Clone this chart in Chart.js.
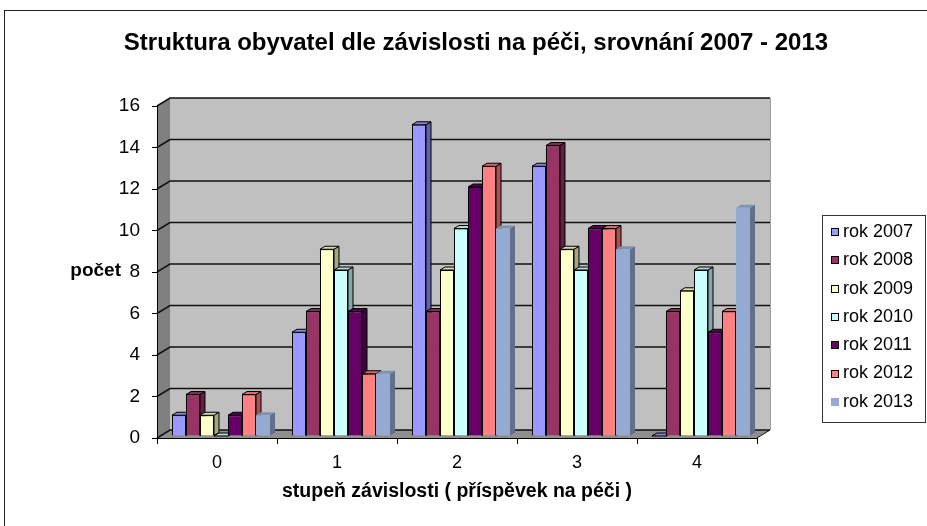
<!DOCTYPE html>
<html>
<head>
<meta charset="utf-8">
<script src="https://cdn.jsdelivr.net/npm/chart.js@4.4.1/dist/chart.umd.min.js"></script>
<style>
  html, body { margin: 0; padding: 0; background: #fff; overflow: hidden; }
  #frame { position: absolute; left: 4px; top: 10px; width: 942px; height: 540px; border: 1px solid #222; }
  canvas { display: block; }
</style>
</head>
<body>
<div id="frame"><canvas id="myChart" width="942" height="540"></canvas></div>
<script>
// data
const categories = ["0", "1", "2", "3", "4"];
const seriesNames = ["rok 2007", "rok 2008", "rok 2009", "rok 2010", "rok 2011", "rok 2012", "rok 2013"];
const rok2007 = [1, 5, 15, 13, 0];
const rok2008 = [2, 6, 6, 14, 6];
const rok2009 = [1, 9, 8, 9, 7];
const rok2010 = [0, 8, 10, 8, 8];
const rok2011 = [1, 6, 12, 10, 5];
const rok2012 = [2, 3, 13, 10, 6];
const rok2013 = [1, 3, 10, 9, 11];
const seriesValues = [rok2007, rok2008, rok2009, rok2010, rok2011, rok2012, rok2013];

const chartTitle = "Struktura obyvatel dle závislosti na péči, srovnání 2007 - 2013";
const xTitle = "stupeň závislosti ( příspěvek na péči )";
const yTitle = "počet";

// styles
const seriesColors = ["#9999FF", "#993366", "#FFFFCC", "#CCFFFF", "#660066", "#FF8080", "#95AAD2"];
const seriesBorders = [1, 1, 1, 1, 1, 1, 0];
const FONT = "'Liberation Sans', Arial, sans-serif";

function shade(hex, f) {
    const n = parseInt(hex.slice(1), 16);
    const r = Math.round(((n >> 16) & 255) * f);
    const g = Math.round(((n >> 8) & 255) * f);
    const b = Math.round((n & 255) * f);
    return "rgb(" + r + "," + g + "," + b + ")";
}

function poly(ctx, pts, fill, stroke) {
    ctx.beginPath();
    ctx.moveTo(pts[0][0], pts[0][1]);
    for (let i = 1; i < pts.length; i++) ctx.lineTo(pts[i][0], pts[i][1]);
    ctx.closePath();
    if (fill) { ctx.fillStyle = fill; ctx.fill(); }
    if (stroke) { ctx.strokeStyle = stroke; ctx.lineWidth = 1; ctx.stroke(); }
}

// back wall, side wall, floor and grid lines of the 3D box
const wallsPlugin = {
    id: "walls",
    beforeDraw(chart) {
        const ctx = chart.ctx;
        const a = chart.chartArea;
        const y = chart.scales.y;
        const dx = 13, dy = -8;
        ctx.save();
        ctx.fillStyle = "#c0c0c0";
        ctx.fillRect(a.left + dx, a.top + dy, a.right - a.left, a.bottom - a.top);
        poly(ctx, [[a.left, a.top], [a.left + dx, a.top + dy], [a.left + dx, a.bottom + dy], [a.left, a.bottom]], "#808080");
        poly(ctx, [[a.left, a.bottom], [a.left + dx, a.bottom + dy], [a.right + dx, a.bottom + dy], [a.right, a.bottom]], "#8f8f8f");
        ctx.strokeStyle = "#a0a0a0";
        ctx.lineWidth = 1;
        ctx.beginPath();
        ctx.moveTo(a.right + dx + 0.5, a.top + dy);
        ctx.lineTo(a.right + dx + 0.5, a.bottom + dy);
        ctx.stroke();
        ctx.strokeStyle = "#111";
        ctx.lineWidth = 1.5;
        y.ticks.forEach(t => {
            const py = y.getPixelForValue(t.value);
            ctx.beginPath();
            ctx.moveTo(a.left, py);
            ctx.lineTo(a.left + dx, py + dy);
            ctx.lineTo(a.right + dx, py + dy);
            ctx.stroke();
        });
        ctx.lineWidth = 1;
        ctx.beginPath();
        ctx.moveTo(a.right, a.bottom);
        ctx.lineTo(a.right + dx, a.bottom + dy);
        ctx.stroke();
        ctx.restore();
    }
};

// top and side faces of every bar, drawn behind the front faces
const bars3dPlugin = {
    id: "bars3d",
    beforeDatasetsDraw(chart) {
        const ctx = chart.ctx;
        ctx.save();
        ctx.translate(4, -2);
        const bx = 5, by = -3;
        chart.data.datasets.forEach((ds, i) => {
            const meta = chart.getDatasetMeta(i);
            const col = seriesColors[i];
            const edge = seriesBorders[i] ? "#000" : null;
            meta.data.forEach(bar => {
                const p = bar.getProps(["x", "y", "base", "width"], true);
                const l = p.x - p.width / 2, r = p.x + p.width / 2;
                const t = Math.min(p.y, p.base), b = Math.max(p.y, p.base);
                poly(ctx, [[r, t], [r + bx, t + by], [r + bx, b + by], [r, b]], shade(col, 0.65), edge);
                poly(ctx, [[l, t], [l + bx, t + by], [r + bx, t + by], [r, t]], shade(col, 0.85), edge);
            });
        });
    },
    afterDatasetsDraw(chart) {
        chart.ctx.restore();
    }
};

// title, "počet" label and the framed legend on the right
const labelsPlugin = {
    id: "labels",
    afterDraw(chart) {
        const ctx = chart.ctx;
        const y = chart.scales.y;
        ctx.save();
        ctx.fillStyle = "#000";
        ctx.textBaseline = "middle";
        ctx.textAlign = "center";
        ctx.font = "bold 24px " + FONT;
        ctx.fillText(chartTitle, chart.width / 2, 32);

        ctx.font = "bold 19px " + FONT;
        ctx.textAlign = "right";
        ctx.fillText(yTitle, 116, y.getPixelForValue(8) - 1);

        const lx = 817, ly = 204, lw = 103, lh = 207;
        ctx.fillStyle = "#fff";
        ctx.fillRect(lx, ly, lw, lh);
        ctx.strokeStyle = "#333";
        ctx.lineWidth = 1;
        ctx.strokeRect(lx + 0.5, ly + 0.5, lw, lh);
        ctx.font = "18px " + FONT;
        ctx.textAlign = "left";
        seriesNames.forEach((name, i) => {
            const cy = ly + 17 + i * 28.3;
            ctx.fillStyle = seriesColors[i];
            ctx.fillRect(826, Math.round(cy) - 4, 8, 8);
            if (seriesBorders[i]) {
                ctx.strokeStyle = "#000";
                ctx.strokeRect(826.5, Math.round(cy) - 3.5, 7, 7);
            }
            ctx.fillStyle = "#000";
            ctx.fillText(name, 838, cy);
        });
        ctx.restore();
    }
};

const datasets = seriesNames.map((name, i) => ({
    label: name,
    data: seriesValues[i],
    backgroundColor: seriesColors[i],
    borderColor: "#000",
    borderWidth: seriesBorders[i]
}));

const canvas = document.getElementById("myChart");
new Chart(canvas, {
    type: "bar",
    data: { labels: categories, datasets: datasets },
    options: {
        responsive: false,
        animation: false,
        layout: { padding: { left: 0, right: 190, top: 95, bottom: 48 } },
        datasets: { bar: { barPercentage: 1, categoryPercentage: 0.817, clip: false } },
        plugins: {
            legend: { display: false },
            tooltip: { enabled: false },
            title: { display: false }
        },
        scales: {
            x: {
                grid: { offset: true, drawOnChartArea: false, drawTicks: true, tickLength: 6, color: "#000" },
                border: { display: true, color: "#000" },
                ticks: { color: "#000", font: { family: FONT, size: 18 }, padding: 8 },
                title: {
                    display: true,
                    text: xTitle,
                    color: "#000",
                    font: { family: FONT, size: 19.5, weight: "bold" },
                    padding: { top: 0, bottom: 0 }
                },
                afterFit: s => { s.height = 65; }
            },
            y: {
                min: 0,
                max: 16,
                ticks: { stepSize: 2, color: "#000", font: { family: FONT, size: 19 }, padding: 12 },
                grid: { drawOnChartArea: false, drawTicks: true, tickLength: 5, color: "#000" },
                border: { display: true, color: "#000" },
                afterFit: s => { s.width = 152; }
            }
        }
    },
    plugins: [wallsPlugin, bars3dPlugin, labelsPlugin]
});
</script>
</body>
</html>
